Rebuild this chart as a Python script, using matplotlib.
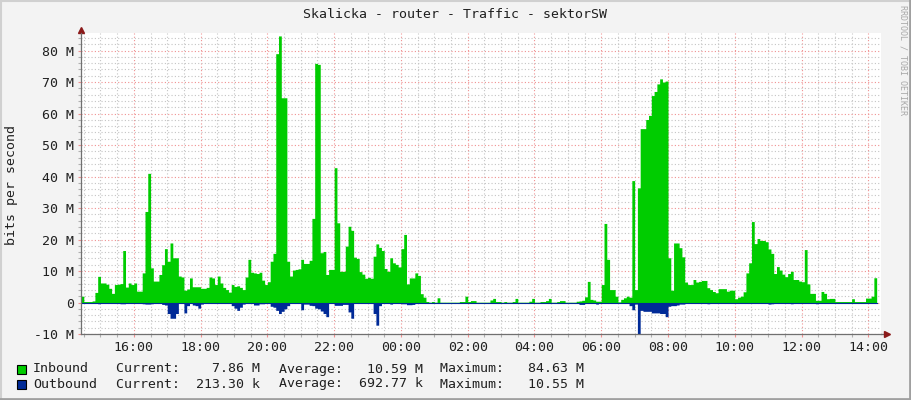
import numpy as np
import matplotlib
matplotlib.use('Agg')
import matplotlib.pyplot as plt
from matplotlib.ticker import MultipleLocator, FuncFormatter
from matplotlib.patches import Rectangle
from matplotlib.lines import Line2D

plt.rcParams['font.family'] = ['DejaVu Sans Mono']

# 5 minute samples starting 14:25, values in Mbit/s
start_hour = 14 + 25 / 60
step_hour = 5 / 60

inbound = [
    2.0, 0.3, 0.3, 0.3, 0.5, 3.2, 8.3, 6.2, 6.2, 5.8, 4.5, 2.9,
    5.7, 5.8, 6.0, 16.5, 4.9, 6.2, 5.7, 6.2, 3.6, 3.6, 9.4, 28.9,
    41.0, 11.0, 6.8, 6.8, 8.9, 12.0, 17.1, 13.1, 18.9, 14.2, 14.2, 8.4,
    8.1, 3.9, 4.3, 7.8, 5.0, 5.0, 5.0, 4.5, 4.5, 4.8, 8.1, 7.8,
    5.7, 8.4, 6.2, 4.8, 4.1, 3.3, 5.7, 5.1, 5.3, 4.8, 4.1, 8.1,
    13.7, 9.6, 9.4, 9.2, 9.6, 7.1, 5.7, 6.6, 13.1, 15.6, 79.0, 84.63,
    65.0, 65.0, 13.1, 8.4, 10.3, 10.5, 10.7, 13.7, 12.4, 12.4, 13.4, 26.7,
    75.9, 75.6, 15.8, 16.2, 8.9, 10.5, 10.5, 42.8, 25.3, 9.9, 9.9, 17.9,
    24.2, 22.9, 14.4, 14.0, 9.8, 9.0, 7.7, 8.0, 7.7, 14.7, 18.6, 17.5,
    16.5, 10.8, 9.9, 14.2, 12.6, 12.1, 11.3, 17.1, 21.6, 5.9, 7.8, 7.8,
    9.4, 8.6, 2.8, 1.7, 0.3, 0.1, 0.3, 0.1, 1.5, 0.1, 0.1, 0.1,
    0.1, 0.1, 0.1, 0.1, 0.3, 0.3, 2.0, 0.3, 0.6, 0.6, 0.1, 0.1,
    0.1, 0.1, 0.1, 0.8, 1.3, 0.3, 0.3, 0.1, 0.3, 0.1, 0.1, 0.3,
    1.3, 0.1, 0.1, 0.1, 0.1, 0.4, 1.3, 0.1, 0.1, 0.3, 0.3, 0.6,
    1.3, 0.1, 0.1, 0.3, 0.6, 0.6, 0.1, 0.1, 0.1, 0.1, 0.4, 0.5,
    0.7, 1.8, 6.7, 1.0, 0.8, 0.4, 0.4, 5.7, 25.1, 13.7, 4.1, 4.1,
    2.0, 0.2, 1.0, 1.5, 2.0, 1.7, 38.7, 4.1, 36.4, 55.2, 55.2, 58.1,
    59.4, 65.7, 67.0, 69.4, 71.0, 70.0, 70.3, 14.2, 3.9, 18.9, 18.9, 17.4,
    14.5, 6.5, 5.7, 5.7, 7.3, 6.5, 6.7, 7.0, 7.0, 4.7, 4.1, 3.5,
    3.1, 4.4, 4.4, 4.4, 3.6, 3.9, 3.9, 1.2, 1.7, 2.0, 3.4, 9.4,
    12.6, 25.7, 18.7, 20.3, 19.7, 19.7, 19.3, 17.0, 15.6, 9.2, 11.4, 10.3,
    9.0, 8.2, 9.2, 9.9, 7.3, 7.3, 6.8, 6.6, 16.8, 5.9, 2.9, 2.9,
    0.7, 0.7, 3.5, 2.9, 1.2, 1.3, 1.3, 0.3, 0.3, 0.3, 0.3, 0.3,
    0.3, 1.2, 0.3, 0.3, 0.3, 0.3, 1.4, 1.4, 2.0, 7.86,
]

outbound = [
    0.1, 0.1, 0.1, 0.1, 0.1, 0.1, 0.4, 0.1, 0.1, 0.1, 0.1, 0.1,
    0.1, 0.1, 0.4, 0.4, 0.1, 0.3, 0.3, 0.1, 0.1, 0.1, 0.4, 0.5,
    0.5, 0.4, 0.1, 0.1, 0.1, 0.6, 0.8, 3.5, 5.0, 5.0, 3.5, 0.2,
    0.3, 3.3, 1.0, 0.2, 0.8, 1.0, 1.8, 0.5, 0.3, 0.3, 0.3, 0.3,
    0.2, 0.2, 0.2, 0.2, 0.2, 0.2, 1.0, 1.8, 2.5, 1.5, 0.5, 0.3,
    0.3, 0.3, 0.8, 0.8, 0.4, 0.4, 0.2, 0.3, 1.2, 1.5, 2.5, 3.5,
    2.8, 2.0, 1.0, 0.3, 0.3, 0.3, 0.3, 2.3, 0.5, 0.5, 0.9, 1.0,
    1.8, 2.0, 2.7, 3.5, 4.5, 0.3, 0.3, 0.9, 0.9, 0.9, 0.6, 0.6,
    3.0, 5.0, 0.3, 0.2, 0.2, 0.2, 0.2, 0.2, 0.2, 3.5, 7.2, 1.0,
    0.3, 0.3, 0.3, 0.5, 0.2, 0.2, 0.2, 0.4, 0.4, 0.7, 0.7, 0.6,
    0.1, 0.1, 0.1, 0.1, 0.1, 0.1, 0.1, 0.1, 0.1, 0.1, 0.1, 0.1,
    0.1, 0.1, 0.1, 0.1, 0.1, 0.1, 0.1, 0.1, 0.1, 0.1, 0.1, 0.1,
    0.05, 0.05, 0.05, 0.05, 0.05, 0.05, 0.05, 0.05, 0.05, 0.05, 0.05, 0.05,
    0.05, 0.05, 0.05, 0.05, 0.05, 0.05, 0.05, 0.05, 0.05, 0.05, 0.05, 0.05,
    0.05, 0.05, 0.05, 0.05, 0.05, 0.05, 0.05, 0.05, 0.05, 0.05, 0.05, 0.6,
    0.6, 0.05, 0.05, 0.05, 0.05, 0.5, 0.05, 0.05, 0.3, 0.3, 0.3, 0.3,
    0.1, 0.1, 0.1, 0.1, 0.1, 1.0, 2.3, 0.5, 10.55, 2.5, 2.8, 2.8,
    2.8, 3.3, 3.3, 3.3, 3.5, 3.5, 4.5, 1.2, 1.0, 1.0, 0.8, 0.5,
    0.5, 0.2, 0.2, 0.2, 0.2, 0.2, 0.2, 0.2, 0.2, 0.4, 0.1, 0.1,
    0.1, 0.1, 0.1, 0.1, 0.1, 0.1, 0.1, 0.1, 0.1, 0.3, 0.3, 0.3,
    0.3, 0.1, 0.1, 0.1, 0.1, 0.1, 0.1, 0.5, 0.4, 0.1, 0.1, 0.1,
    0.1, 0.1, 0.1, 0.4, 0.1, 0.3, 0.1, 0.1, 0.1, 0.1, 0.1, 0.1,
    0.4, 0.1, 0.1, 0.3, 0.3, 0.3, 0.3, 0.3, 0.1, 0.1, 0.1, 0.1,
    0.1, 0.1, 0.1, 0.1, 0.1, 0.1, 0.1, 0.1, 0.1, 0.213,
]

legend_rows = [
    ('Inbound', '#00CC00', 'Current:    7.86 M', 'Average:   10.59 M', 'Maximum:   84.63 M'),
    ('Outbound', '#002A97', 'Current:  213.30 k', 'Average:  692.77 k', 'Maximum:   10.55 M'),
]

W, H = 911, 400
fig = plt.figure(figsize=(W / 100, H / 100), dpi=100, facecolor='#f3f3f3')
ax = fig.add_axes([81 / W, 66 / H, 800 / W, 301 / H])
ax.set_facecolor('white')

n = len(inbound)
t = start_hour + np.arange(n + 1) * step_hour
inb = np.append(inbound, inbound[-1])
outb = -np.append(outbound, outbound[-1])

ax.fill_between(t, inb, 0, step='post', color='#00CC00', lw=0)
ax.fill_between(t, outb, 0, step='post', color='#002A97', lw=0)
ax.plot([t[0], t[-1]], [0, 0], color='#002A97', lw=0.8)

ax.set_xlim(start_hour, 16 + (881 - 133.5) / 33.4)
ax.set_ylim(-10, 85.56)

ax.xaxis.set_major_locator(MultipleLocator(2))
ax.xaxis.set_minor_locator(MultipleLocator(0.5))
ax.yaxis.set_major_locator(MultipleLocator(10))
ax.yaxis.set_minor_locator(MultipleLocator(2))
ax.xaxis.set_major_formatter(FuncFormatter(lambda v, p: '%02d:00' % (int(round(v)) % 24)))
ax.yaxis.set_major_formatter(FuncFormatter(lambda v, p: '0' if abs(v) < 1e-9 else '%d M' % v))

ax.set_axisbelow(True)
ax.grid(which='minor', color='#c4c4c4', ls=(0, (1, 2)), lw=0.8)
ax.grid(which='major', color='#f09090', ls=(0, (1, 2)), lw=0.8)

ax.tick_params(which='both', direction='out', length=2, width=0.8, labelsize=9.5, colors='#202020')
ax.tick_params(which='major', color='#f09090')
ax.tick_params(which='minor', color='#b0b0b0')
ax.tick_params(axis='x', pad=3)
ax.tick_params(axis='y', pad=3)

for s in ['top', 'right']:
    ax.spines[s].set_visible(False)
for s in ['left', 'bottom']:
    ax.spines[s].set_color('#707070')
    ax.spines[s].set_linewidth(0.9)

# axis arrows
ax.plot([0, 0], [1, 1 + 3 / 301], color='#707070', lw=0.9, transform=ax.transAxes, clip_on=False)
ax.plot([0], [1 + 3 / 301], marker='^', color='#8b1a1a', ms=4, transform=ax.transAxes, clip_on=False)
ax.plot([1, 1 + 6 / 800], [0, 0], color='#707070', lw=0.9, transform=ax.transAxes, clip_on=False)
ax.plot([1 + 6 / 800], [0], marker='>', color='#8b1a1a', ms=4, transform=ax.transAxes, clip_on=False)

fig.text(455 / W, 1 - 14 / H, 'Skalicka - router - Traffic - sektorSW', ha='center', va='center',
         fontsize=9.5, color='#202020')
fig.text(12 / W, 1 - 185 / H, 'bits per second', rotation=90, ha='center', va='center',
         fontsize=9.5, color='#202020')
fig.text(903 / W, 1 - 60 / H, 'RRDTOOL / TOBI OETIKER', rotation=270, ha='center', va='center',
         fontsize=6, color='#a8a8a8')

for k, (name, col, cur, avg, mx) in enumerate(legend_rows):
    y = 369 + k * 15
    fig.patches.append(Rectangle((17 / W, 1 - (y + 4.5) / H), 9 / W, 9 / H, transform=fig.transFigure,
                                 facecolor=col, edgecolor='black', lw=0.8))
    fig.text(33 / W, 1 - y / H, name, ha='left', va='center', fontsize=9.5, color='#202020')
    fig.text(116 / W, 1 - y / H, cur, ha='left', va='center', fontsize=9.5, color='#202020')
    fig.text(279 / W, 1 - y / H, avg, ha='left', va='center', fontsize=9.5, color='#202020')
    fig.text(440.5 / W, 1 - y / H, mx, ha='left', va='center', fontsize=9.5, color='#202020')

# frame around the image
fig.add_artist(Line2D([0, 1], [1 - 0.5 / H, 1 - 0.5 / H], color='#d0d0d0', lw=1.5))
fig.add_artist(Line2D([0.5 / W, 0.5 / W], [0, 1], color='#d0d0d0', lw=1.5))
fig.add_artist(Line2D([0, 1], [1.5 / H, 1.5 / H], color='#a0a0a0', lw=2))
fig.add_artist(Line2D([1 - 1.5 / W, 1 - 1.5 / W], [0, 1], color='#a0a0a0', lw=2))

fig.savefig('out.png', dpi=100, facecolor=fig.get_facecolor())
